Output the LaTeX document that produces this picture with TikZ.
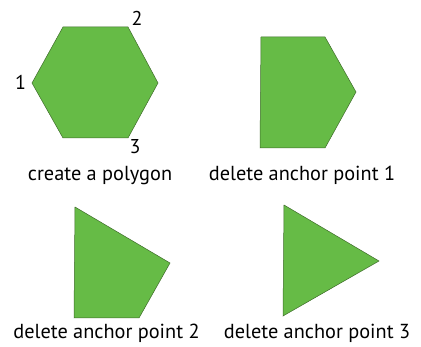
\documentclass[tikz,border=0pt]{standalone}
\usepackage{fontspec}
\setmainfont{PT Sans}
\definecolor{polygreen}{HTML}{66BB46}
\definecolor{polyedge}{HTML}{3E6B2A}
\begin{document}
\begin{tikzpicture}[x=1pt,y=-1pt,
  shape fill/.style={fill=polygreen,draw=polyedge,line width=0.5pt,line join=miter},
  caption/.style={font=\fontsize{20.3}{24}\selectfont,inner sep=0pt,anchor=base},
  vlabel/.style={font=\fontsize{20}{24}\selectfont,inner sep=0pt,anchor=base}]
\useasboundingbox (0,0) rectangle (421,347);
% hexagon
\draw[shape fill] (63,27) -- (128,27) -- (158,83) -- (128,138) -- (63,138) -- (32,83) -- cycle;
\node[vlabel] (l2) at (137,26) {2};
\node[vlabel] (l1) at (20.5,90) {1};
\node[vlabel] (l3) at (135,154) {3};
\node[caption] (c1) at (100,181) {create a polygon};
% pentagon
\draw[shape fill] (261,37) -- (325,37) -- (356,92) -- (325,148) -- (260,148) -- cycle;
\node[caption] (c2) at (302,181) {delete anchor point 1};
% quadrilateral
\draw[shape fill] (75,207) -- (170,263) -- (139,318) -- (74,318) -- cycle;
\node[caption] (c3) at (106.5,339) {delete anchor point 2};
% triangle
\draw[shape fill] (284,205) -- (379,261) -- (283,316) -- cycle;
\node[caption] (c4) at (317,339) {delete anchor point 3};
\end{tikzpicture}
\end{document}
